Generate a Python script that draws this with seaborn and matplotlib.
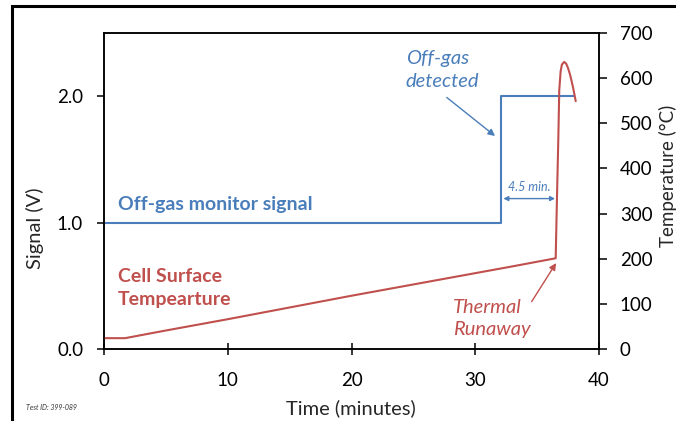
import matplotlib
matplotlib.use("Agg")
import matplotlib.pyplot as plt
from matplotlib.patches import Rectangle
import seaborn as sns

# ---- data ----
signal_time = [0, 32.1, 32.1, 38.0]
signal_volts = [1.0, 1.0, 2.0, 2.0]

temp_time = [0, 1.7, 5, 10, 15, 20, 25, 30, 33, 36.5, 36.6, 36.71, 36.79,
             36.9, 37.0, 37.19, 37.35, 37.5, 37.66, 37.9, 38.12]
temp_c = [24, 24, 41, 66, 92, 118, 143, 168, 183, 201, 330, 463, 574,
          615, 630, 636, 632, 622, 608, 580, 549]

x_ticks = [0, 10, 20, 30, 40]
signal_ticks = [0.0, 1.0, 2.0]
signal_ticklabels = ["0.0", "1.0", "2.0"]
temp_ticks = [0, 100, 200, 300, 400, 500, 600, 700]

BLUE = "#4A7EBB"
RED = "#C0504D"

sns.set_theme(style="white")
plt.rcParams["font.family"] = ["Lato", "DejaVu Sans"]

W, H = 676, 421
fig = plt.figure(figsize=(W / 100, H / 100), dpi=100)
ax = fig.add_axes([104 / W, 1 - 349 / H, (599 - 104) / W, (349 - 33) / H])
ax2 = ax.twinx()

sns.lineplot(x=signal_time, y=signal_volts, ax=ax, color=BLUE, lw=1.5,
             sort=False, estimator=None, legend=False)
sns.lineplot(x=temp_time, y=temp_c, ax=ax2, color=RED, lw=1.5,
             sort=False, estimator=None, legend=False)

ax.set_xlim(0, 40)
ax.set_ylim(0, 2.5)
ax2.set_ylim(0, 700)
ax.set_xticks(x_ticks)
ax.set_yticks(signal_ticks)
ax.set_yticklabels(signal_ticklabels)
ax2.set_yticks(temp_ticks)

for a in (ax, ax2):
    for s in a.spines.values():
        s.set_color("black")
        s.set_linewidth(1.1)
    a.set_xlabel("")
    a.set_ylabel("")

ax.tick_params(axis="x", direction="inout", length=9, width=1.1, pad=12,
               labelsize=13.5, colors="black", bottom=True)
ax.tick_params(axis="y", direction="out", length=5, width=1.1, pad=10,
               labelsize=13.5, colors="black", left=True)
ax2.tick_params(axis="y", direction="out", length=6, width=1.1, pad=9,
                labelsize=13.5, colors="black", right=True)

# axis titles
fig.text(351 / W, 1 - 408 / H, "Time (minutes)", ha="center", va="center",
         fontsize=14.5)
fig.text(35 / W, 1 - 228 / H, "Signal (V)", ha="center", va="center",
         rotation=90, fontsize=14.5)
fig.text(667.5 / W, 1 - 176 / H, "Temperature (°C)", ha="center", va="center",
         rotation=90, fontsize=13.5)
fig.text(26 / W, 1 - 407 / H, "Test ID: 399-089", ha="left", va="center",
         fontsize=5, style="italic", color="#333333")

# series labels
ax.text(1.1, 1.143, "Off-gas monitor signal", color=BLUE, fontsize=14,
        fontweight="bold", ha="left", va="center")
ax.text(1.1, 0.484, "Cell Surface\nTempearture", color=RED, fontsize=14,
        fontweight="bold", ha="left", va="center", linespacing=1.4)

# annotations
ax.annotate("", xy=(31.6, 1.685), xytext=(27.7, 1.99),
            arrowprops=dict(arrowstyle="-|>", color=BLUE, lw=1.0,
                            mutation_scale=10, shrinkA=0, shrinkB=0))
ax.text(24.4, 2.21, "Off-gas\ndetected", color=BLUE, fontsize=14.5,
        style="italic", ha="left", va="center", linespacing=1.45)

ax.annotate("", xy=(36.53, 0.68), xytext=(34.56, 0.375),
            arrowprops=dict(arrowstyle="-|>", color=RED, lw=1.0,
                            mutation_scale=10, shrinkA=0, shrinkB=0))
ax.text(28.2, 0.242, "Thermal\nRunaway", color=RED, fontsize=14.5,
        style="italic", ha="left", va="center", linespacing=1.35)

ax.annotate("", xy=(36.45, 1.19), xytext=(32.27, 1.19),
            arrowprops=dict(arrowstyle="<|-|>", color=BLUE, lw=1.0,
                            mutation_scale=7, shrinkA=0, shrinkB=0))
ax.text(34.36, 1.278, "4.5 min.", color=BLUE, fontsize=9,
        style="italic", ha="center", va="center")

# outer frame
fig.patches.append(Rectangle((12 / W, -0.2), 2.0, 1.2 - 6 / H,
                             transform=fig.transFigure, fill=False,
                             edgecolor="black", lw=2.2, clip_on=False))

fig.savefig("out.png", dpi=100)
